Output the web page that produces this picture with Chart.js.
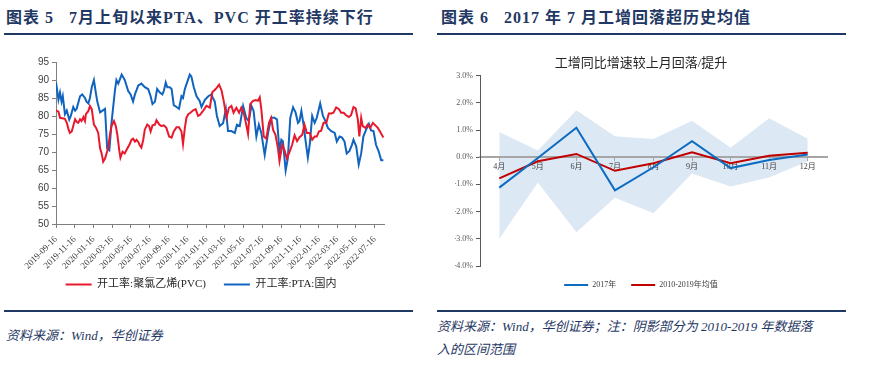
<!DOCTYPE html>
<html>
<head>
<meta charset="utf-8">
<script src="https://cdn.jsdelivr.net/npm/chart.js@4.4.1/dist/chart.umd.min.js"></script>
<style>
body { margin: 0; width: 882px; height: 365px; background: #fff; position: relative; overflow: hidden;
  font-family: 'Liberation Serif', 'Noto Sans CJK SC', serif; }
.title { position: absolute; top: 7px; font-size: 16px; line-height: 22px; font-weight: bold; color: #1f3864;
  white-space: nowrap; letter-spacing: 1px; }
.rule { position: absolute; height: 2px; background: #1f3864; }
.src { position: absolute; font-size: 13px; line-height: 23px; font-style: italic; color: #1f3864; white-space: nowrap; }
canvas { position: absolute; }
</style>
</head>
<body>
<div class="title" style="left:6px">图表 5&nbsp;&nbsp;&nbsp;7月上旬以来PTA、PVC 开工率持续下行</div>
<div class="title" style="left:441px">图表 6&nbsp;&nbsp;&nbsp;2017 年 7 月工增回落超历史均值</div>
<div class="rule" style="left:4px;width:409px;top:33px"></div>
<div class="rule" style="left:437px;width:409px;top:33px"></div>

<canvas id="c1" width="420" height="258" style="left:0;top:42px"></canvas>
<canvas id="c2" width="422" height="258" style="left:430px;top:42px"></canvas>

<div class="rule" style="left:4px;width:409px;top:310px"></div>
<div class="rule" style="left:437px;width:409px;top:310px"></div>
<div class="src" style="left:6px;top:324px">资料来源：Wind，华创证券</div>
<div class="src" style="left:437px;top:315px">资料来源：Wind，华创证券；注：阴影部分为 2010-2019 年数据落<br>入的区间范围</div>

<script>
// 图表5：开工率（天数从 2019-09-16 起算）
const baseDate = '2019-09-16';
const tickDates = ['2019-09-16', '2019-11-16', '2020-01-16', '2020-03-16', '2020-05-16', '2020-07-16',
  '2020-09-16', '2020-11-16', '2021-01-16', '2021-03-16', '2021-05-16', '2021-07-16',
  '2021-09-16', '2021-11-16', '2022-01-16', '2022-03-16', '2022-05-16', '2022-07-16'];

const pvcDay = [0, 8, 13, 24, 29, 35, 40, 45, 51, 56, 62, 67, 72, 78, 83, 89, 94, 97, 105, 110, 116, 123, 130, 137, 143, 148,
  153, 159, 164, 169, 175, 180, 188, 194, 199, 205, 209, 216, 223, 229, 238, 245, 250, 256, 261, 267, 272, 277, 283, 288,
  296, 302, 307, 313, 321, 326, 335, 342, 350, 358, 367, 375, 382, 391, 399, 407, 412, 418, 423, 429, 436, 445, 453, 461,
  466, 477, 488, 499, 507, 518, 529, 537, 544, 553, 561, 569, 576, 585, 594, 601, 609, 617, 623, 630, 639, 648, 655, 661,
  666, 674, 682, 691, 698, 704, 712, 720, 725, 734, 742, 749, 758, 766, 774, 782, 790, 799, 806, 814, 823, 831, 839, 846,
  853, 860, 868, 877, 885, 893, 900, 909, 918, 925, 933, 941, 950, 957, 965, 972, 979, 984, 990, 995, 1004, 1011, 1019,
  1028, 1036, 1044, 1051, 1062];
const pvcVal = [81.6, 81.2, 79.5, 79.3, 79.2, 78.1, 76.5, 75.3, 75.7, 77.2, 79.1, 78.4, 78.1, 79.1, 78.6, 79.7, 78.6, 80.5,
  81.4, 82.8, 81.9, 77.6, 76.7, 75.3, 71, 69.6, 67.3, 68.2, 69.6, 71, 74.8, 77.2, 78.6, 77.2, 74.8, 70.6, 68.4, 70.1, 69.6,
  70.6, 72, 73.4, 73.7, 72.9, 73.4, 72.8, 71.8, 71.2, 73.4, 76.2, 77.6, 77.2, 75.7, 77.4, 77.6, 78.8, 77.6, 77.2, 77.4,
  76.7, 74.3, 74, 75.7, 76.9, 76.9, 75.7, 72.2, 76.7, 79.5, 80.5, 80.9, 81.6, 81.9, 80, 80.2, 81.4, 82.8, 82.3, 86.6,
  87.5, 88.7, 87.1, 84.2, 79.5, 82.3, 82.8, 80.9, 82.3, 80.9, 82.3, 80.9, 77.6, 75, 83.3, 84.2, 84.4, 84.2, 85.2, 81.9,
  74.3, 73.7, 78.1, 79.5, 76.2, 74.8, 71, 67.5, 72, 70.3, 68.2, 70.1, 72, 74.6, 73, 74.1, 74.8, 77.6, 75.3, 75.3, 73.4,
  74.3, 74.3, 75.7, 75.9, 78.1, 78.1, 80.7, 80.7, 80.9, 82.4, 81.9, 80.9, 80.9, 80.2, 79.7, 80.2, 82.5, 82.1, 79.1, 74.3,
  79.5, 77.2, 76.7, 77.6, 76.7, 78.1, 77.4, 76.7, 75.7, 74];

const ptaDay = [0, 4, 8, 13, 18, 22, 29, 35, 43, 48, 56, 62, 67, 78, 85, 94, 99, 105, 110, 116, 123, 130, 134, 143, 151, 159,
  166, 173, 180, 191, 196, 202, 213, 223, 234, 242, 250, 256, 267, 277, 288, 299, 307, 313, 321, 328, 337, 345, 350, 356,
  361, 369, 375, 382, 391, 399, 407, 412, 418, 434, 439, 447, 456, 466, 472, 483, 494, 504, 509, 515, 522, 531, 542, 551,
  558, 569, 580, 587, 596, 607, 617, 625, 634, 641, 650, 658, 666, 677, 688, 698, 709, 717, 725, 731, 736, 745, 752, 760,
  769, 777, 785, 790, 796, 803, 810, 817, 823, 831, 839, 846, 857, 866, 874, 882, 893, 904, 911, 920, 928, 936, 943, 952,
  960, 965, 974, 982, 990, 997, 1006, 1015, 1022, 1030, 1038, 1047, 1055, 1062];
const ptaVal = [89.4, 87, 84.5, 86.5, 84, 85.5, 80.5, 81.5, 79, 80, 82.5, 81.5, 82, 85.5, 86, 85, 84, 83.5, 85, 88, 90, 86,
  84, 81, 81.5, 82, 71, 70.5, 78, 87, 90, 89, 91.5, 90, 87, 86, 84, 86, 88.5, 89, 88, 87.5, 85.5, 83.3, 84, 87.5, 86.5, 86,
  87, 89.3, 88, 88, 87.5, 83, 82.5, 82, 85.5, 85, 87.5, 91.5, 91, 88, 85.5, 84.2, 82.5, 84.5, 85.5, 86, 85, 84, 80, 77.2,
  78, 81.9, 75.8, 75.8, 75.3, 77.6, 77.2, 82.8, 79.5, 78.6, 82.8, 81.4, 74.3, 77.6, 75.3, 69.2, 75.3, 79.5, 79.5, 79, 70.1,
  73.4, 73, 64.9, 68.2, 79.5, 82.4, 81, 78.1, 78.6, 81.4, 77.6, 72.9, 68.4, 72, 80, 78.1, 79.5, 83.5, 80, 78.6, 76.7, 75.8,
  75.3, 72.9, 74.3, 74, 72.9, 69.6, 70.3, 72, 73.4, 71.5, 66.5, 69.6, 74.3, 76.2, 77.8, 76, 75.8, 72, 70.1, 67.7, 67.7];

// 图表6：工增同比增速较上月变化（%）
const months = ['4月', '5月', '6月', '7月', '8月', '9月', '10月', '11月', '12月'];
const y2017 = [-1.12, -0.03, 1.08, -1.22, -0.37, 0.59, -0.4, -0.1, 0.1];
const avg1019 = [-0.78, -0.15, 0.12, -0.5, -0.22, 0.18, -0.22, 0.05, 0.16];
const bandHigh = [0.93, 0.25, 1.73, 0.77, 0.67, 1.34, 0.35, 1.43, 0.68];
const bandLow = [-3.0, -0.93, -2.76, -1.49, -2.06, -0.6, -1.08, -0.75, -0.15];

const serif = "'Liberation Serif', 'Noto Sans CJK SC', serif";
const dayOf = d => (Date.parse(d) - Date.parse(baseDate)) / 86400000;
const tickDays = tickDates.map(dayOf);

function lineLegend(chart) {
    return Chart.defaults.plugins.legend.labels.generateLabels(chart)
        .map(l => Object.assign(l, { fillStyle: l.strokeStyle, lineWidth: 0 }));
}

new Chart(document.getElementById('c1'), {
    type: 'line',
    data: {
        datasets: [
            {
                label: '开工率:聚氯乙烯(PVC)',
                data: pvcDay.map((d, i) => ({ x: d, y: pvcVal[i] })),
                borderColor: '#e8192c', borderWidth: 2, pointRadius: 0, tension: 0
            },
            {
                label: '开工率:PTA:国内',
                data: ptaDay.map((d, i) => ({ x: d, y: ptaVal[i] })),
                borderColor: '#1063be', borderWidth: 2, pointRadius: 0, tension: 0
            }
        ]
    },
    options: {
        responsive: false,
        animation: false,
        layout: { padding: { left: 18, right: 36, top: 20, bottom: 0 } },
        plugins: {
            tooltip: { enabled: false },
            legend: {
                position: 'bottom',
                labels: {
                    boxWidth: 26, boxHeight: 2, padding: 18,
                    font: { family: serif, size: 11 }, color: '#262626',
                    generateLabels: lineLegend
                }
            }
        },
        scales: {
            x: {
                type: 'linear', min: 0, max: 1064,
                afterBuildTicks: s => { s.ticks = tickDays.map(v => ({ value: v })); },
                afterFit: s => {
                    s.height = 37;
                    s.paddingLeft = 0;
                    // the rotated dates hang below the short axis box; don't clip them to it
                    s._computeLabelArea = () => undefined;
                },
                ticks: {
                    autoSkip: false, minRotation: 45, maxRotation: 45, padding: 6,
                    font: { family: serif, size: 9 }, color: '#404040',
                    callback: (v, i) => tickDates[i]
                },
                grid: { drawOnChartArea: false, tickLength: 4, color: '#7f7f7f' },
                border: { color: '#7f7f7f' }
            },
            y: {
                min: 50, max: 95,
                afterFit: s => { s.width = 38; },
                ticks: { stepSize: 5, font: { family: "'Liberation Sans', sans-serif", size: 10 }, color: '#404040' },
                grid: { drawOnChartArea: false, tickLength: 4, color: '#7f7f7f' },
                border: { color: '#7f7f7f' }
            }
        }
    }
});

new Chart(document.getElementById('c2'), {
    type: 'line',
    data: {
        labels: months,
        datasets: [
            { label: '2017年', data: y2017, borderColor: '#0b6cc1', borderWidth: 2, pointRadius: 0, order: 0 },
            { label: '2010-2019年均值', data: avg1019, borderColor: '#c00000', borderWidth: 2, pointRadius: 0, order: 1 },
            { label: 'high', data: bandHigh, borderColor: 'rgba(0,0,0,0)', borderWidth: 0, pointRadius: 0,
              backgroundColor: '#dde8f5', fill: '+1', order: 2 },
            { label: 'low', data: bandLow, borderColor: 'rgba(0,0,0,0)', borderWidth: 0, pointRadius: 0,
              fill: false, order: 3 }
        ]
    },
    options: {
        responsive: false,
        animation: false,
        layout: { padding: { left: 25, right: 25, top: 0, bottom: 1 } },
        plugins: {
            tooltip: { enabled: false },
            filler: { drawTime: 'beforeDraw' },
            title: {
                display: true, text: '工增同比增速较上月回落/提升',
                font: { family: serif, size: 13, weight: 'normal' }, color: '#262626',
                padding: { top: 14, bottom: 4 }
            },
            legend: {
                position: 'bottom',
                labels: {
                    boxWidth: 24, boxHeight: 2, padding: 15,
                    font: { family: serif, size: 8 }, color: '#404040',
                    filter: it => it.datasetIndex < 2,
                    generateLabels: lineLegend
                }
            }
        },
        scales: {
            x: {
                position: { y: 0 }, offset: true,
                ticks: { autoSkip: false, maxRotation: 0, font: { family: serif, size: 8 }, color: '#404040', padding: 2 },
                grid: { drawOnChartArea: false, tickLength: 3, color: '#a6a6a6' },
                border: { color: '#a6a6a6', width: 2 }
            },
            y: {
                min: -4, max: 3,
                afterFit: s => { s.width = 25; },
                ticks: { stepSize: 1, callback: v => v.toFixed(1) + '%', font: { family: serif, size: 8 }, color: '#595959' },
                grid: { drawOnChartArea: false, tickLength: 4, color: '#595959' },
                border: { color: '#595959' }
            }
        }
    }
});
</script>
</body>
</html>
